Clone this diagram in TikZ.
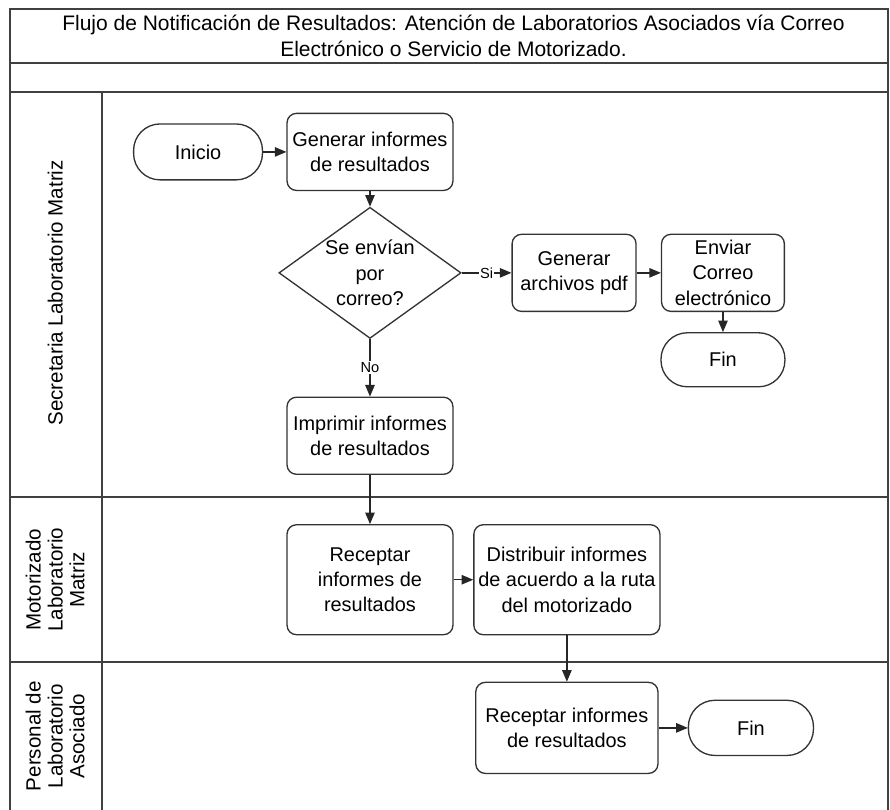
\documentclass[tikz,border=0pt]{standalone}
\usepackage{fontspec}
\setmainfont{Liberation Sans}
\usetikzlibrary{shapes.geometric, arrows}
\tikzstyle{startstop} = [rectangle, rounded corners=0.7cm, minimum width=3.3cm, minimum height=1.45cm, text centered, draw=black!80, line width=1pt]
\tikzstyle{process} = [rectangle, rounded corners=0.25cm, minimum width=4.39cm, minimum height=2.04cm, align=center, draw=black!80, line width=1pt]
\tikzstyle{decision} = [diamond, aspect=1.39, inner sep=0pt, minimum width=4.82cm, minimum height=3.47cm, align=center, draw=black!80, line width=1pt]
\tikzstyle{lane} = [rotate=90, align=center, font=\fontsize{15.5}{16.5}\selectfont]
\tikzstyle{choice} = [fill=white, inner sep=1pt, font=\fontsize{11}{13}\selectfont]
\tikzstyle{arrow} = [line width=1pt, draw=black!85, ->, >=triangle 45]
\tikzstyle{frame} = [line width=1.5pt, draw=black!75]

\begin{document}
\begin{tikzpicture}[node distance=3.2cm, font=\fontsize{15}{19}\selectfont]
\useasboundingbox (0,0) rectangle (23.55,-21.43);

%% FRAME
\draw [frame] (0.26,-21.43) -- (0.26,-0.24) -- (23.49,-0.24) -- (23.49,-21.43);
\draw [frame] (0.26,-1.67) -- (23.49,-1.67);
\draw [frame] (0.26,-2.43) -- (23.49,-2.43);
\draw [frame] (0.26,-13.15) -- (23.49,-13.15);
\draw [frame] (0.26,-17.52) -- (23.49,-17.52);
\draw [frame] (2.70,-2.43) -- (2.70,-21.43);

\node (title) [align=center, font=\fontsize{15.8}{19.5}\selectfont] at (12.0,-0.95) {Flujo de Notificación de Resultados: Atención de Laboratorios Asociados vía Correo\\Electrónico o Servicio de Motorizado.};
\node (lane1) [lane] at (1.46,-7.75) {Secretaria Laboratorio Matriz};
\node (lane2) [lane] at (1.46,-15.34) {Motorizado\\Laboratorio\\Matriz};
\node (lane3) [lane] at (1.46,-19.48) {Personal de\\Laboratorio\\Asociado};

%% NODES
\node (gen) [process] at (9.79,-4.02) {Generar informes\\de resultados};
\node (start) [startstop, left of=gen, xshift=-1.35cm, minimum width=3.41cm, minimum height=1.48cm] {Inicio};
\node (dec1) [decision, below of=gen] {Se envían\\por\\correo?};
\node (pdf) [process, right of=dec1, xshift=2.2cm, minimum width=3.28cm] {Generar\\archivos pdf};
\node (mail) [process, right of=pdf, xshift=0.74cm, minimum width=3.25cm, inner sep=1pt] {Enviar\\Correo\\electrónico};
\node (end1) [startstop, below of=mail, yshift=0.9cm, minimum width=3.28cm, minimum height=1.43cm] {Fin};
\node (print) [process, below of=dec1, yshift=-1.11cm] {Imprimir informes\\de resultados};
\node (recv1) [process, below of=print, yshift=-0.61cm, minimum height=2.91cm] {Receptar\\informes de\\resultados};
\node (dist) [process, right of=recv1, xshift=2.01cm, minimum width=4.84cm, minimum height=2.91cm] {Distribuir informes\\de acuerdo a la ruta\\del motorizado};
\node (recv2) [process, below of=dist, yshift=-0.72cm, minimum width=4.82cm, minimum height=2.41cm] {Receptar informes\\de resultados};
\node (end2) [startstop, right of=recv2, xshift=1.67cm, minimum width=3.31cm, minimum height=1.46cm] {Fin};

%% ARROWS
\draw [arrow] (start) -- (gen);
\draw [arrow] (gen) -- (dec1);
\draw [arrow] (dec1) -- node[choice] {Si} (pdf);
\draw [arrow] (dec1) -- node[choice] {No} (print);
\draw [arrow] (pdf) -- (mail);
\draw [arrow] (mail) -- (end1);
\draw [arrow] (print) -- (recv1);
\draw [arrow] (recv1) -- (dist);
\draw [arrow] (dist) -- (recv2);
\draw [arrow] (recv2) -- (end2);
\end{tikzpicture}
\end{document}
